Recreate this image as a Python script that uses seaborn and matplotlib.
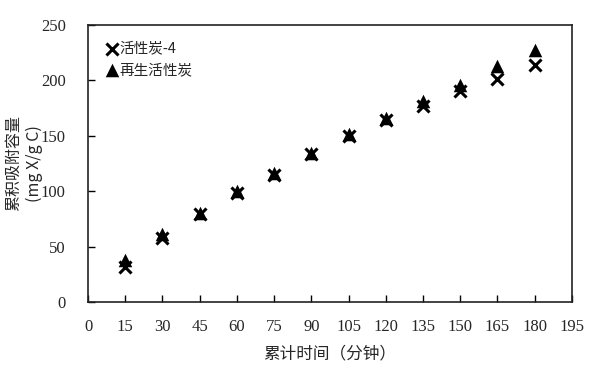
import pandas as pd
import matplotlib
matplotlib.use("Agg")
import matplotlib.pyplot as plt
import seaborn as sns

# 数据
tempo = [15, 30, 45, 60, 75, 90, 105, 120, 135, 150, 165, 180]
carvao_4 = [31.5, 57.5, 79, 98.5, 115, 133.5, 149.5, 164, 177, 190, 201, 214]
regenerado = [38, 61.5, 80, 100, 116, 134.5, 151.5, 166, 181, 196, 213, 227]
nome_4 = "活性炭-4"
nome_reg = "再生活性炭"
xticks = list(range(0, 196, 15))
yticks = list(range(0, 251, 50))

df_4 = pd.DataFrame({"t": tempo, "q": carvao_4})
df_reg = pd.DataFrame({"t": tempo, "q": regenerado})

sns.set_theme(style="white")
plt.rcParams["font.family"] = ["Noto Sans CJK SC", "DejaVu Sans"]

fig = plt.figure(figsize=(6, 3.72), dpi=100)
ax = fig.add_axes([0.1467, 0.188, 0.8063, 0.745])

sns.scatterplot(data=df_4, x="t", y="q", marker="x", color="black",
                s=75, linewidth=2.2, label=nome_4, ax=ax, zorder=3)
sns.scatterplot(data=df_reg, x="t", y="q", marker="^", color="black",
                s=95, linewidth=0, label=nome_reg, ax=ax, zorder=2)

ax.set_xlim(0, 195)
ax.set_ylim(0, 250)
ax.set_xticks(xticks)
ax.set_yticks(yticks)
serif = ["Liberation Serif", "DejaVu Serif"]
ax.set_xticklabels([str(v) for v in xticks], family=serif, fontsize=12)
ax.set_yticklabels([str(v) for v in yticks], family=serif, fontsize=12)
ax.tick_params(axis="x", direction="in", length=5, width=1, color="black",
               bottom=True, top=False, pad=12)
ax.tick_params(axis="y", direction="in", length=5, width=1, color="black",
               left=True, right=False, pad=16)

for s in ax.spines.values():
    s.set_color("#222222")
    s.set_linewidth(1.2)

ax.set_xlabel("累计时间（分钟）", fontsize=12)
ax.set_ylabel("累积吸附容量\n(mg X/g C)", fontsize=11.5, linespacing=1.25)
ax.xaxis.set_label_coords(0.5, -0.155)
ax.yaxis.set_label_coords(-0.093, 0.5)

leg = ax.legend(loc="upper left", frameon=False, fontsize=10.5,
                handletextpad=0.0, handlelength=1.0, borderaxespad=0.55,
                labelspacing=0.5, borderpad=0.6)
ax.grid(False)

fig.savefig("out.png", dpi=100)
